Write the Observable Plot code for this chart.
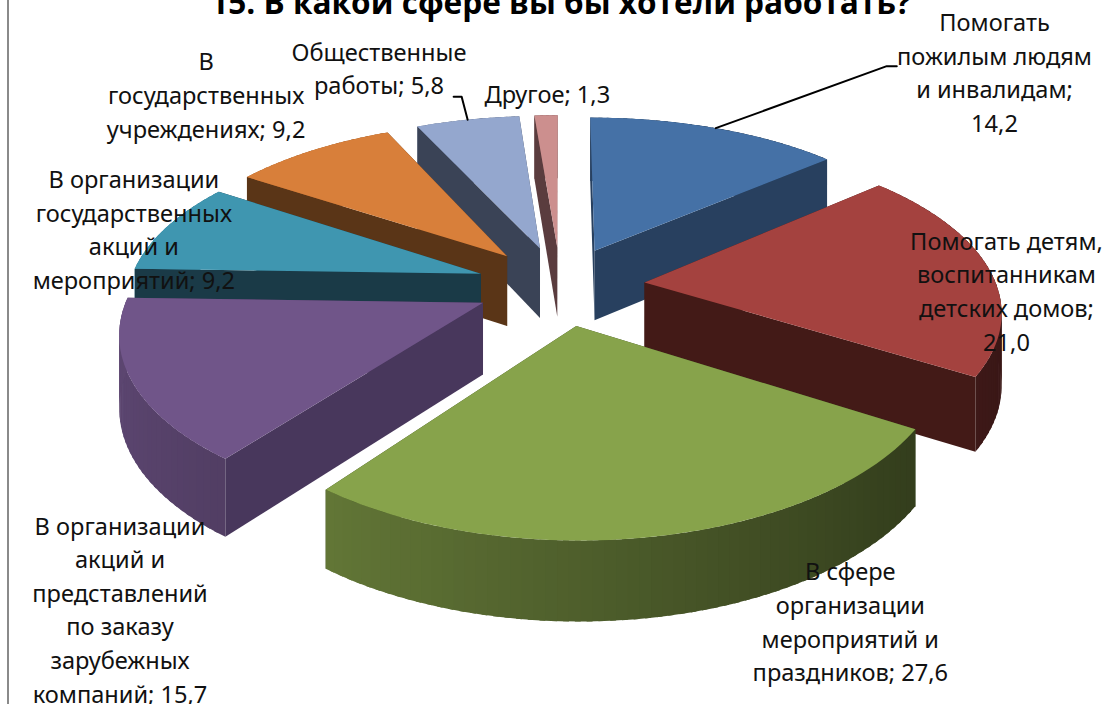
<!DOCTYPE html>
<html><head><meta charset="utf-8">
<script src="https://cdn.jsdelivr.net/npm/d3@7"></script>
<script src="https://cdn.jsdelivr.net/npm/@observablehq/plot@0.6"></script>
<style>html,body{margin:0;padding:0;background:#fff;overflow:hidden}svg{display:block}</style>
</head><body><div id="chart"></div>
<script>
const titleText = ["15. В какой сфере вы бы хотели работать?"];
const categories = [
  "Помогать\nпожилым людям\nи инвалидам;\n14,2",
  "Помогать детям,\nвоспитанникам\nдетских домов;\n21,0",
  "В сфере\nорганизации\nмероприятий и\nпраздников; 27,6",
  "В организации\nакций и\nпредставлений\nпо заказу\nзарубежных\nкомпаний; 15,7",
  "В организации\nгосударственных\nакций и\nмероприятий; 9,2",
  "В\nгосударственных\nучреждениях; 9,2",
  "Общественные\nработы; 5,8",
  "Другое; 1,3"
];
const values = [14.2, 21.0, 27.6, 15.7, 9.2, 9.2, 5.8, 1.3];
const topColors = ["#4571A6","#A4423F","#87A34B","#705589","#3F96B0","#D87F3A","#94A7CE","#CC8F8E"];
const sideColors = ["#28405F","#431A17","#3A4A20","#48375C","#1A3A47","#5A3517","#3A4356","#5A3C3E"];
const paintOrder = [7,6,5,4,0,1,3,2];
const labelDx = [400, 362, 274, -363, -347, -301, -161, -10];
const labelDy = [-180, 7, 294, 305, -46, -163, -182, -155];

const view = {cx:560, cy:285, Rx:352, Ry:165, p:0.162, px:0.15, zp:0.1, e:0.24, D:71, w:1104, h:704};
function project(X, V, z) {
  return [view.cx + view.Rx * X / (1 + view.px * V),
          view.cy - view.Ry * V / (1 + view.p * V) + z * view.D / (1 + view.zp * V)];
}
const total = d3.sum(values);
const cum = d3.cumsum(values);
const slices = values.map((v, i) => {
  const a0 = (i ? cum[i-1] : 0) / total * 2 * Math.PI, a1 = cum[i] / total * 2 * Math.PI, m = (a0 + a1) / 2;
  const ox = view.e * Math.sin(m), oy = view.e * Math.cos(m);
  const rim = (a, z) => project(ox + Math.sin(a), oy + Math.cos(a), z);
  return {i, a0, a1, m, ox, oy, rim, apex: z => project(ox, oy, z)};
});
function shade(hex, X) {
  const c = d3.rgb(hex), f = 0.82 - 0.24 * (X + 1);
  return d3.rgb(c.r*f, c.g*f, c.b*f).formatHex();
}
const polys = [];
let pid = 0;
function addPoly(pts, fill) {
  const id = pid++;
  pts.forEach(([x, y]) => polys.push({id, x, y, fill}));
}
for (const idx of paintOrder) {
  const s = slices[idx];
  const radial = a => [s.apex(0), s.rim(a, 0), s.rim(a, 1), s.apex(1)];
  const startFront = Math.sin(s.a0) < -1e-6, endFront = Math.sin(s.a1) > 1e-6;
  if (!startFront) addPoly(radial(s.a0), sideColors[idx]);
  if (!endFront) addPoly(radial(s.a1), sideColors[idx]);
  const n = Math.max(4, Math.ceil((s.a1 - s.a0) * 36));
  for (let k = 0; k < n; k++) {
    const b0 = s.a0 + (s.a1 - s.a0) * k / n, b1 = Math.min(s.a1, s.a0 + (s.a1 - s.a0) * (k + 1.5) / n);
    addPoly([s.rim(b0,0), s.rim(b1,0), s.rim(b1,1), s.rim(b0,1)],
      shade(topColors[idx], Math.sin(s.a0 + (s.a1 - s.a0) * (k + 0.5) / n)));
  }
  if (startFront) addPoly(radial(s.a0), sideColors[idx]);
  if (endFront) addPoly(radial(s.a1), sideColors[idx]);
  const top = [s.apex(0)];
  for (let k = 0; k <= 60; k++) top.push(s.rim(s.a0 + (s.a1 - s.a0) * k / 60, 0));
  addPoly(top, topColors[idx]);
}
const labels = slices.map(s => {
  const [ax, ay] = s.apex(0);
  return {x: ax + labelDx[s.i], y: ay + labelDy[s.i], text: categories[s.i]};
});
function leader(i, id, dx1, dy1, dx2) {
  const [x, y] = slices[i].rim(slices[i].m, 0);
  return [{id, x, y}, {id, x: x + dx1, y: y + dy1}, {id, x: x + dx1 + dx2, y: y + dy1}];
}
const leaders = [...leader(0, 0, 171, -62, 10), ...leader(6, 1, -6, -23, -8)];

const chart = Plot.plot({
  width: view.w, height: view.h, margin: 0,
  x: {domain: [0, view.w], range: [0, view.w], axis: null},
  y: {domain: [0, view.h], range: [0, view.h], axis: null},
  color: {type: "identity"},
  style: {background: "#fff"},
  marks: [
    Plot.ruleX([7.5], {stroke: "#8a8a8a", strokeWidth: 2}),
    Plot.line(polys, {x: "x", y: "y", z: "id", fill: "fill", stroke: "none", curve: "linear-closed"}),
    Plot.line(leaders, {x: "x", y: "y", z: "id", stroke: "#000", strokeWidth: 2, curve: "linear"}),
    Plot.text(labels, {x: "x", y: "y", text: "text", fontSize: 23.6, lineHeight: 1.424, fill: "#111", fontFamily: "'Noto Sans', sans-serif", textAnchor: "middle", lineAnchor: "middle"}),
    Plot.text(titleText, {x: () => 560, y: () => 3, text: d => d, fontSize: 31.6, fontWeight: 700, fill: "#000", fontFamily: "'Open Sans', sans-serif", textAnchor: "middle", lineAnchor: "middle"})
  ]
});
document.getElementById("chart").appendChild(chart);
</script></body></html>
